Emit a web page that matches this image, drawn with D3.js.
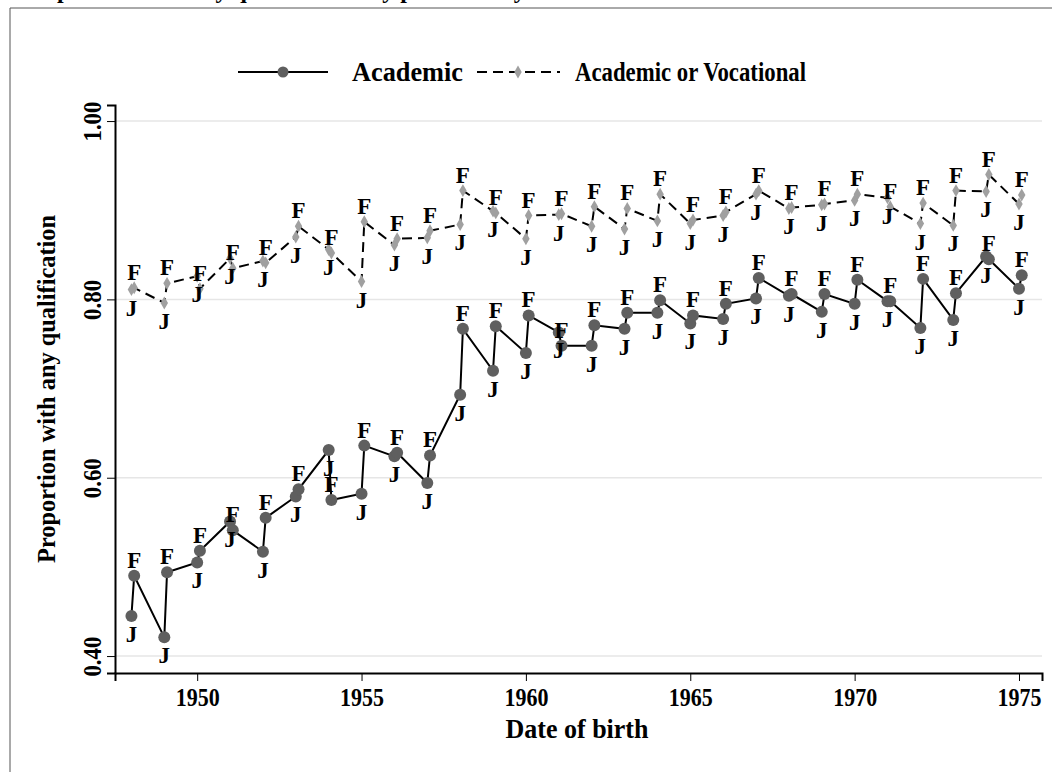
<!DOCTYPE html>
<html lang="en">
<head>
<meta charset="utf-8">
<title>Proportion with any qualification</title>
<script src="https://cdn.jsdelivr.net/npm/d3@7"></script>
<style>
  body { margin: 0; background: #fff; }
  svg text { font-family: "Liberation Serif", "Times New Roman", serif; font-weight: bold; }
</style>
</head>
<body>
<div id="chart"></div>
<script>
// birth years (J and F cohorts within each year)
var years = [1948,1949,1950,1951,1952,1953,1954,1955,1956,1957,1958,1959,1960,1961,
             1962,1963,1964,1965,1966,1967,1968,1969,1970,1971,1972,1973,1974,1975];

var academicJ = [0.445,0.421,0.505,0.551,0.517,0.579,0.631,0.582,0.624,0.594,0.693,0.720,0.740,0.763,
                 0.748,0.767,0.785,0.773,0.778,0.801,0.804,0.786,0.795,0.798,0.768,0.777,0.848,0.812];
var academicF = [0.490,0.494,0.518,0.541,0.555,0.587,0.575,0.636,0.628,0.625,0.767,0.770,0.782,0.748,
                 0.771,0.785,0.799,0.782,0.795,0.824,0.806,0.806,0.822,0.798,0.823,0.807,0.845,0.827];

var anyJ = [0.811,0.796,0.826,0.846,0.843,0.870,0.856,0.820,0.861,0.869,0.884,0.899,0.868,0.895,
            0.882,0.879,0.888,0.885,0.894,0.918,0.902,0.906,0.911,0.914,0.885,0.883,0.921,0.907];
var anyF = [0.813,0.818,0.812,0.835,0.841,0.882,0.852,0.887,0.868,0.877,0.922,0.897,0.894,0.896,
            0.904,0.902,0.918,0.889,0.898,0.922,0.903,0.907,0.918,0.904,0.908,0.922,0.940,0.917];

var xTicks = [1950,1955,1960,1965,1970,1975];
var yTicks = [0.40,0.60,0.80,1.00];

var W = 1052, H = 772;
var pLeft = 115, pRight = 1042, pTop = 105, pBottom = 673;

var svg = d3.select("#chart").append("svg")
    .attr("width", W).attr("height", H);

// graph region frame
svg.append("path")
    .attr("d", "M10," + H + " V8 H" + W)
    .attr("fill", "none").attr("stroke", "#555").attr("stroke-width", 1);

// cut-off title at the very top
svg.append("text")
    .attr("x", 20).attr("y", -2)
    .attr("font-size", 24)
    .text("Proportion with any qualification by position in year of birth and cohort: academic or vocational");

var x = d3.scaleLinear().domain([1947.5, 1975.7]).range([pLeft, pRight]);
var y = d3.scaleLinear().domain([0.381, 1.018]).range([pBottom, pTop]);

// build point series: J at the year, F one month later
function series(jv, fv) {
  var pts = [];
  years.forEach(function(yr, i) {
    pts.push({ x: yr, v: jv[i], m: "J" });
    pts.push({ x: yr + 1/12, v: fv[i], m: "F" });
  });
  return pts;
}
var acad = series(academicJ, academicF);
var anyq = series(anyJ, anyF);

// grid
svg.append("g").selectAll("line").data(yTicks).enter().append("line")
    .attr("x1", pLeft).attr("x2", pRight)
    .attr("y1", function(d) { return y(d); }).attr("y2", function(d) { return y(d); })
    .attr("stroke", "#e6e6e6").attr("stroke-width", 1.5);

// axes
var xAxis = svg.append("g").attr("transform", "translate(0," + pBottom + ")")
    .call(d3.axisBottom(x).tickValues(xTicks).tickFormat(d3.format("d")).tickSize(8));
var yAxis = svg.append("g").attr("transform", "translate(" + pLeft + ",0)")
    .call(d3.axisLeft(y).tickValues(yTicks).tickFormat(d3.format(".2f")).tickSize(8));

[xAxis, yAxis].forEach(function(a) {
  a.select(".domain").attr("stroke", "#000").attr("stroke-width", 2);
  a.selectAll(".tick line").attr("stroke", "#000").attr("stroke-width", 1);
  a.selectAll("text").attr("font-family", "Liberation Serif").attr("font-weight", "bold")
    .attr("font-size", 26).attr("fill", "#000")
    .attr("textLength", 44).attr("lengthAdjust", "spacingAndGlyphs");
});
xAxis.selectAll(".tick text").attr("y", 33).attr("dy", 0);
yAxis.selectAll(".tick text")
    .attr("text-anchor", "middle")
    .attr("transform", "translate(-14,0) rotate(-90)")
    .attr("x", 0).attr("y", 0).attr("dy", 0)
    .attr("textLength", 40);

// axis titles
svg.append("text")
    .attr("x", 577).attr("y", 738)
    .attr("text-anchor", "middle").attr("font-size", 27)
    .attr("textLength", 143).attr("lengthAdjust", "spacingAndGlyphs")
    .text("Date of birth");
svg.append("text")
    .attr("transform", "translate(55,389) rotate(-90)")
    .attr("text-anchor", "middle").attr("font-size", 26)
    .attr("textLength", 348).attr("lengthAdjust", "spacingAndGlyphs")
    .text("Proportion with any qualification");

var line = d3.line().x(function(d) { return x(d.x); }).y(function(d) { return y(d.v); });

var diamond = d3.symbol().type(d3.symbolDiamond).size(48);

// academic or vocational (dashed, light diamonds)
svg.append("path").datum(anyq).attr("d", line)
    .attr("fill", "none").attr("stroke", "#000").attr("stroke-width", 2)
    .attr("stroke-dasharray", "10,6");
svg.append("g").selectAll("path").data(anyq).enter().append("path")
    .attr("d", diamond)
    .attr("transform", function(d) { return "translate(" + x(d.x) + "," + y(d.v) + ")"; })
    .attr("fill", "#a0a0a0");

// academic (solid, dark circles)
svg.append("path").datum(acad).attr("d", line)
    .attr("fill", "none").attr("stroke", "#000").attr("stroke-width", 2);
svg.append("g").selectAll("circle").data(acad).enter().append("circle")
    .attr("cx", function(d) { return x(d.x); }).attr("cy", function(d) { return y(d.v); })
    .attr("r", 6).attr("fill", "#5f5f5f");

// J / F marker labels
function labels(pts) {
  svg.append("g").selectAll("text").data(pts).enter().append("text")
      .attr("x", function(d) { return x(d.x); })
      .attr("y", function(d) { return d.m === "F" ? y(d.v) - 8 : y(d.v) + 26; })
      .attr("text-anchor", "middle").attr("font-size", 23)
      .text(function(d) { return d.m; });
}
labels(anyq);
labels(acad);

// legend
var lg = svg.append("g").attr("transform", "translate(0,72)");
lg.append("line").attr("x1", 238).attr("x2", 328).attr("stroke", "#000").attr("stroke-width", 2);
lg.append("circle").attr("cx", 283).attr("r", 5.5).attr("fill", "#5f5f5f");
lg.append("text").attr("x", 352).attr("y", 9).attr("font-size", 27)
    .attr("textLength", 111).attr("lengthAdjust", "spacingAndGlyphs").text("Academic");
lg.append("line").attr("x1", 477).attr("x2", 560).attr("stroke", "#000").attr("stroke-width", 2)
    .attr("stroke-dasharray", "10,6");
lg.append("path").attr("d", diamond).attr("transform", "translate(518,0)").attr("fill", "#a0a0a0");
lg.append("text").attr("x", 575).attr("y", 9).attr("font-size", 27)
    .attr("textLength", 231).attr("lengthAdjust", "spacingAndGlyphs").text("Academic or Vocational");
</script>
</body>
</html>
